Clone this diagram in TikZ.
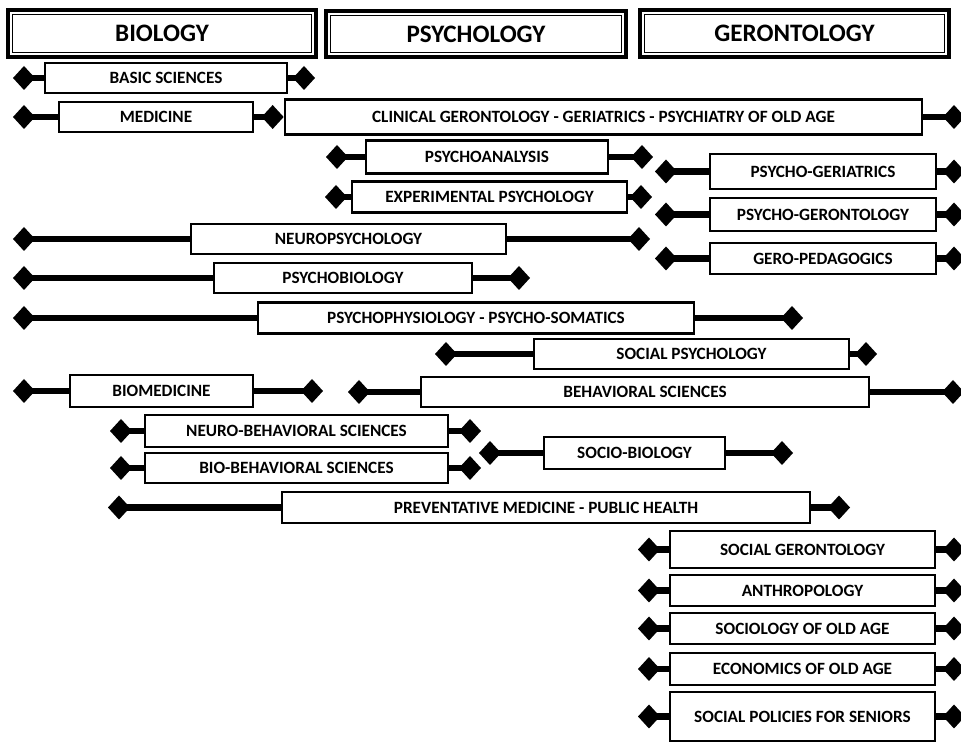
\documentclass[tikz,border=0pt]{standalone}
\usepackage{fontspec}
\setmainfont{Carlito}
\usetikzlibrary{arrows.meta}

\begin{document}
\begin{tikzpicture}[x=0.02cm,y=-0.02cm,
    head/.style={draw,line width=1.8pt,fill=white,inner sep=0pt,
      font=\bfseries\fontsize{14.3}{17}\selectfont,
      path picture={\draw[line width=0.6pt]
        ([shift={(2.4pt,-2.4pt)}]path picture bounding box.north west) rectangle
        ([shift={(-2.4pt,2.4pt)}]path picture bounding box.south east);}},
    bar/.style={draw,line width=1.6pt,fill=white,inner sep=0pt,
      font=\bfseries\fontsize{9.8}{11}\selectfont},
    link/.style={line width=3.8pt,-{Diamond[length=0.44cm,width=0.48cm]}}]
  \useasboundingbox (0,0) rectangle (961,742);

  \node[head,minimum width=6.16cm,minimum height=0.94cm] (biology) at (162,33.5) {BIOLOGY};
  \node[head,minimum width=6cm,minimum height=0.92cm] (psychology) at (476,34) {\raisebox{-3pt}{PSYCHOLOGY}};
  \node[head,minimum width=6.18cm,minimum height=0.94cm] (gerontology) at (794.5,33.5) {GERONTOLOGY};

  \node[bar,minimum width=4.84cm,minimum height=0.6cm] (basic) at (166,78) {BASIC SCIENCES};
  \node[bar,minimum width=3.88cm,minimum height=0.6cm] (medicine) at (156,117) {MEDICINE};
  \node[bar,minimum width=12.74cm,minimum height=0.7cm] (clinical) at (603.5,117)
    {CLINICAL GERONTOLOGY - GERIATRICS - PSYCHIATRY OF OLD AGE};
  \node[bar,minimum width=4.84cm,minimum height=0.66cm] (analysis) at (487,157) {PSYCHOANALYSIS};
  \node[bar,minimum width=5.5cm,minimum height=0.62cm] (experimental) at (489.5,197) {EXPERIMENTAL PSYCHOLOGY};
  \node[bar,minimum width=6.3cm,minimum height=0.6cm] (neuropsy) at (348.5,239) {NEUROPSYCHOLOGY};
  \node[bar,minimum width=5.16cm,minimum height=0.6cm] (psybio) at (343,278) {PSYCHOBIOLOGY};
  \node[bar,minimum width=8.72cm,minimum height=0.62cm] (psyphys) at (476,318) {PSYCHOPHYSIOLOGY - PSYCHO-SOMATICS};
  \node[bar,minimum width=6.3cm,minimum height=0.6cm] (socpsy) at (691.5,354) {SOCIAL PSYCHOLOGY};
  \node[bar,minimum width=3.66cm,minimum height=0.64cm] (biomed) at (161.5,391) {BIOMEDICINE};
  \node[bar,minimum width=8.96cm,minimum height=0.6cm] (behav) at (645,392) {BEHAVIORAL SCIENCES};
  \node[bar,minimum width=6.06cm,minimum height=0.64cm] (neurobehav) at (296.5,431) {NEURO-BEHAVIORAL SCIENCES};
  \node[bar,minimum width=6.06cm,minimum height=0.6cm] (biobehav) at (296.5,468) {BIO-BEHAVIORAL SCIENCES};
  \node[bar,minimum width=3.62cm,minimum height=0.64cm] (sociobio) at (634.5,453) {SOCIO-BIOLOGY};
  \node[bar,minimum width=10.56cm,minimum height=0.62cm] (prevent) at (546,507.5) {PREVENTATIVE MEDICINE - PUBLIC HEALTH};
  \node[bar,minimum width=4.52cm,minimum height=0.7cm] (psyger) at (823,171.5) {PSYCHO-GERIATRICS};
  \node[bar,minimum width=4.52cm,minimum height=0.66cm] (psygeront) at (823,214.5) {PSYCHO-GERONTOLOGY};
  \node[bar,minimum width=4.52cm,minimum height=0.62cm] (geroped) at (823,258.5) {GERO-PEDAGOGICS};
  \node[bar,minimum width=5.3cm,minimum height=0.74cm] (socger) at (802.5,549.5) {SOCIAL GERONTOLOGY};
  \node[bar,minimum width=5.3cm,minimum height=0.62cm] (anthro) at (802.5,590.5) {ANTHROPOLOGY};
  \node[bar,minimum width=5.3cm,minimum height=0.62cm] (sociology) at (802.5,628.5) {SOCIOLOGY OF OLD AGE};
  \node[bar,minimum width=5.3cm,minimum height=0.64cm] (economics) at (802.5,669) {ECONOMICS OF OLD AGE};
  \node[bar,minimum width=5.3cm,minimum height=0.98cm] (policies) at (802.5,716.5) {SOCIAL POLICIES FOR SENIORS};

  \coordinate (basicL) at (13,78);
  \coordinate (basicR) at (315,78);
  \coordinate (medicineL) at (13,117);
  \coordinate (clinicalR) at (965,117);
  \coordinate (analysisL) at (326,157);
  \coordinate (analysisR) at (653,157);
  \coordinate (experimentalL) at (325,197);
  \coordinate (experimentalR) at (652,197);
  \coordinate (neuropsyL) at (13,239);
  \coordinate (neuropsyR) at (650,239);
  \coordinate (psybioL) at (13,278);
  \coordinate (psybioR) at (530,278);
  \coordinate (psyphysL) at (13,318);
  \coordinate (psyphysR) at (803,318);
  \coordinate (socpsyL) at (435,354);
  \coordinate (socpsyR) at (877,354);
  \coordinate (biomedL) at (13,391);
  \coordinate (biomedR) at (323,391);
  \coordinate (behavL) at (348,392);
  \coordinate (behavR) at (964,392);
  \coordinate (neurobehavL) at (110,431);
  \coordinate (neurobehavR) at (481,431);
  \coordinate (biobehavL) at (110,468);
  \coordinate (biobehavR) at (481,468);
  \coordinate (sociobioL) at (479,453);
  \coordinate (sociobioR) at (793,453);
  \coordinate (preventL) at (108,507.5);
  \coordinate (preventR) at (850,507.5);
  \coordinate (psygerL) at (655,171.5);
  \coordinate (psygerR) at (965,171.5);
  \coordinate (psygerontL) at (655,214.5);
  \coordinate (psygerontR) at (965,214.5);
  \coordinate (geropedL) at (655,258.5);
  \coordinate (geropedR) at (965,258.5);
  \coordinate (socgerL) at (638,549.5);
  \coordinate (socgerR) at (965,549.5);
  \coordinate (anthroL) at (638,590.5);
  \coordinate (anthroR) at (965,590.5);
  \coordinate (sociologyL) at (638,628.5);
  \coordinate (sociologyR) at (965,628.5);
  \coordinate (economicsL) at (638,669);
  \coordinate (economicsR) at (965,669);
  \coordinate (policiesL) at (638,716.5);
  \coordinate (policiesR) at (965,716.5);

  \draw[link] (basic) -- (basicL);
  \draw[link] (basic) -- (basicR);
  \draw[link] (medicine) -- (medicineL);
  \draw[link] (medicine) -- (clinical);
  \draw[link] (clinical) -- (clinicalR);
  \draw[link] (analysis) -- (analysisL);
  \draw[link] (analysis) -- (analysisR);
  \draw[link] (experimental) -- (experimentalL);
  \draw[link] (experimental) -- (experimentalR);
  \draw[link] (neuropsy) -- (neuropsyL);
  \draw[link] (neuropsy) -- (neuropsyR);
  \draw[link] (psybio) -- (psybioL);
  \draw[link] (psybio) -- (psybioR);
  \draw[link] (psyphys) -- (psyphysL);
  \draw[link] (psyphys) -- (psyphysR);
  \draw[link] (socpsy) -- (socpsyL);
  \draw[link] (socpsy) -- (socpsyR);
  \draw[link] (biomed) -- (biomedL);
  \draw[link] (biomed) -- (biomedR);
  \draw[link] (behav) -- (behavL);
  \draw[link] (behav) -- (behavR);
  \draw[link] (neurobehav) -- (neurobehavL);
  \draw[link] (neurobehav) -- (neurobehavR);
  \draw[link] (biobehav) -- (biobehavL);
  \draw[link] (biobehav) -- (biobehavR);
  \draw[link] (sociobio) -- (sociobioL);
  \draw[link] (sociobio) -- (sociobioR);
  \draw[link] (prevent) -- (preventL);
  \draw[link] (prevent) -- (preventR);
  \draw[link] (psyger) -- (psygerL);
  \draw[link] (psyger) -- (psygerR);
  \draw[link] (psygeront) -- (psygerontL);
  \draw[link] (psygeront) -- (psygerontR);
  \draw[link] (geroped) -- (geropedL);
  \draw[link] (geroped) -- (geropedR);
  \draw[link] (socger) -- (socgerL);
  \draw[link] (socger) -- (socgerR);
  \draw[link] (anthro) -- (anthroL);
  \draw[link] (anthro) -- (anthroR);
  \draw[link] (sociology) -- (sociologyL);
  \draw[link] (sociology) -- (sociologyR);
  \draw[link] (economics) -- (economicsL);
  \draw[link] (economics) -- (economicsR);
  \draw[link] (policies) -- (policiesL);
  \draw[link] (policies) -- (policiesR);
\end{tikzpicture}
\end{document}
